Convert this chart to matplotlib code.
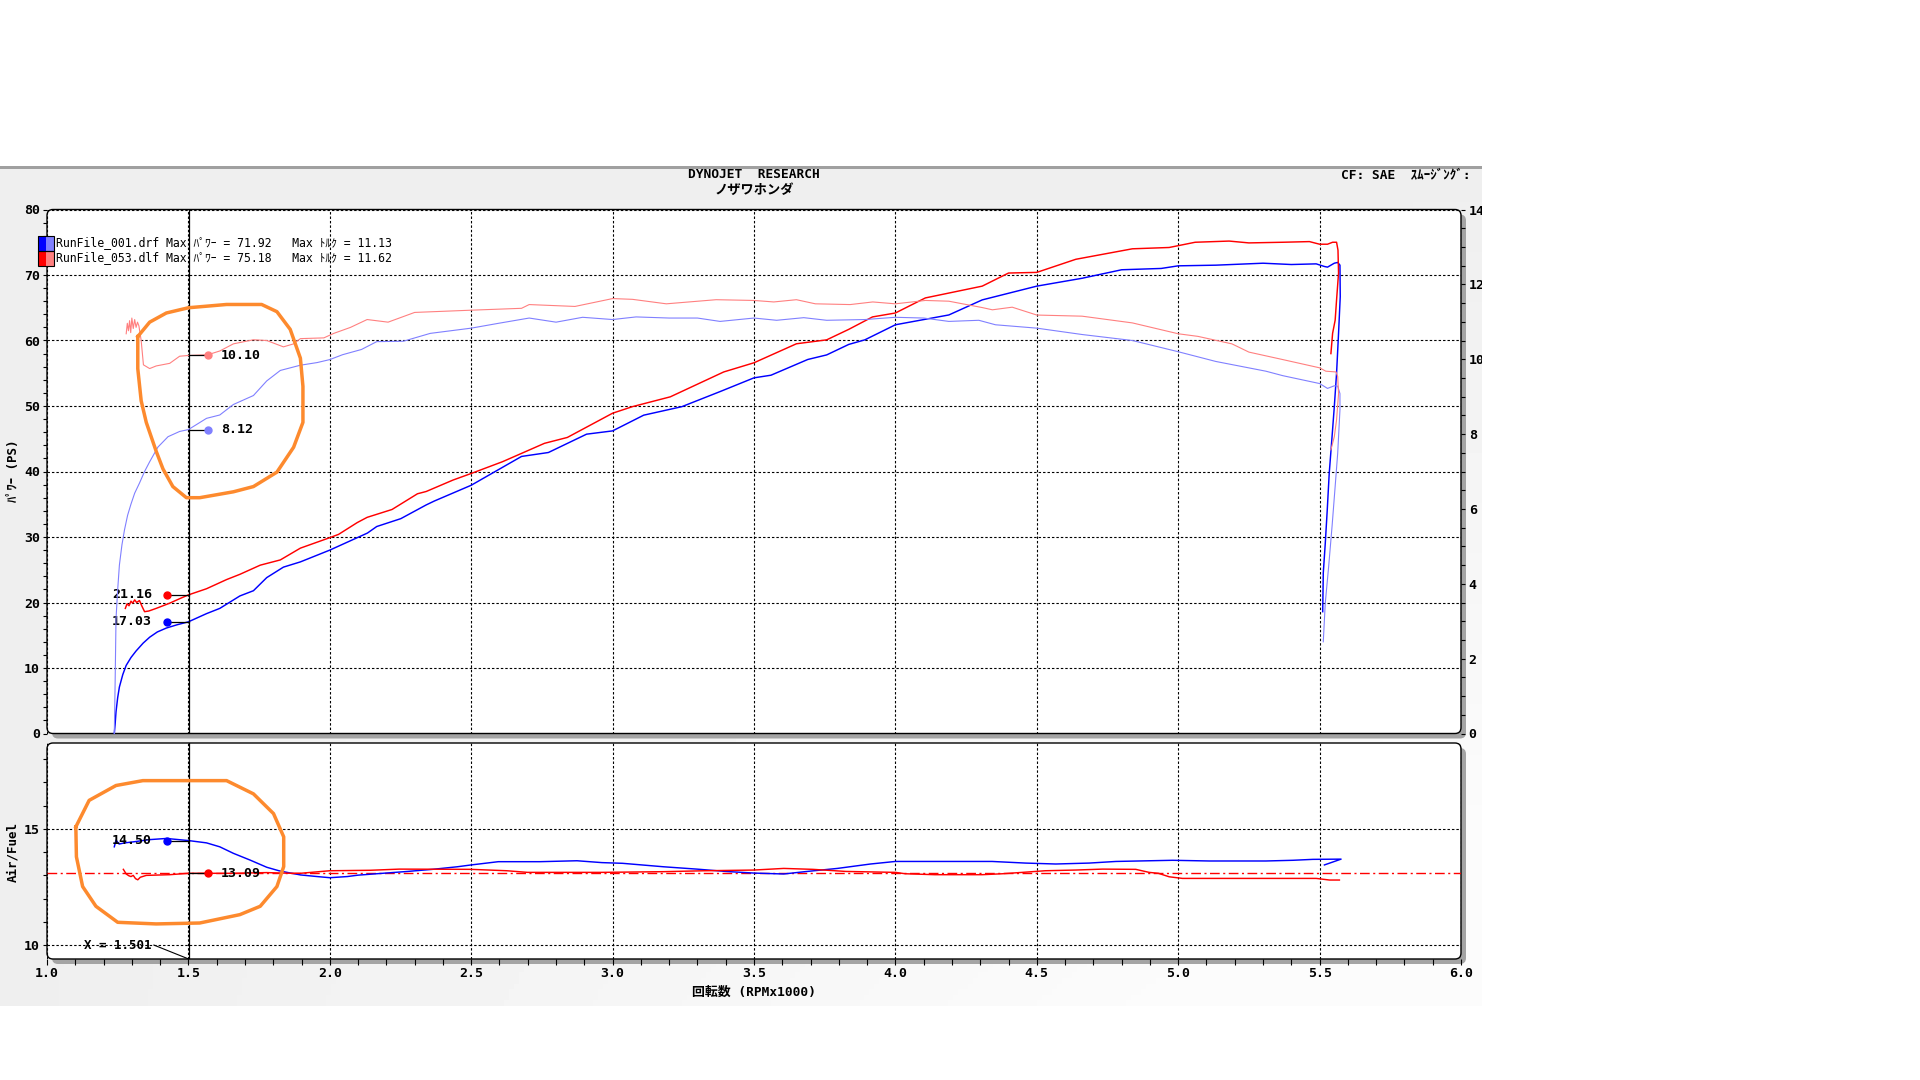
import numpy as np
import matplotlib
matplotlib.use('Agg')
import matplotlib.pyplot as plt
from matplotlib.patches import FancyBboxPatch, Rectangle
from matplotlib.transforms import IdentityTransform
from matplotlib.ticker import MultipleLocator, FixedLocator, FormatStrFormatter

plt.rcParams['font.family'] = ['DejaVu Sans Mono', 'Noto Sans CJK JP']

# ---------------- data ----------------
# Run 001 (blue) power, PS
blue_pwr_rpm = [1.238, 1.241, 1.244, 1.25, 1.256, 1.268, 1.28, 1.297, 1.315, 1.34, 1.363, 1.39, 1.422, 1.46, 1.5,
                1.564, 1.611, 1.682, 1.73, 1.777, 1.836, 1.896, 2.0, 2.133, 2.166, 2.251, 2.341, 2.37, 2.5, 2.678,
                2.773, 2.908, 3.0, 3.11, 3.245, 3.38, 3.5, 3.56, 3.69, 3.757, 3.835, 3.892, 4.0, 4.189, 4.307, 4.5,
                4.66, 4.80, 4.94, 5.0, 5.133, 5.30, 5.40, 5.488, 5.517, 5.528, 5.552, 5.564, 5.572, 5.573, 5.567,
                5.56, 5.552, 5.544, 5.534, 5.527, 5.52, 5.513, 5.511]
blue_pwr = [0, 1.5, 3.3, 5.5, 7.1, 9.0, 10.4, 11.6, 12.6, 13.8, 14.7, 15.5, 16.1, 16.6, 17.05,
            18.3, 19.1, 21.0, 21.8, 23.8, 25.4, 26.2, 28.0, 30.6, 31.6, 32.8, 34.9, 35.5, 37.9, 42.3,
            42.9, 45.7, 46.2, 48.6, 49.9, 52.2, 54.3, 54.7, 57.1, 57.8, 59.4, 60.1, 62.4, 63.9, 66.2, 68.3,
            69.5, 70.8, 71.0, 71.4, 71.5, 71.8, 71.6, 71.7, 71.3, 71.2, 71.8, 71.92, 71.5, 66.7, 61.1,
            55.0, 49.9, 45.3, 39.7, 34.1, 29.0, 24.5, 18.6]

# Run 053 (red) power, PS
red_pwr_rpm = [1.277, 1.283, 1.29, 1.297, 1.303, 1.31, 1.317, 1.327, 1.335, 1.345, 1.36, 1.386, 1.434, 1.47, 1.5,
               1.564, 1.635, 1.682, 1.754, 1.825, 1.896, 2.0, 2.031, 2.097, 2.132, 2.22, 2.31, 2.341, 2.436, 2.5,
               2.611, 2.759, 2.84, 3.0, 3.07, 3.204, 3.393, 3.5, 3.65, 3.757, 3.835, 3.919, 4.0, 4.106, 4.307,
               4.40, 4.5, 4.638, 4.838, 4.968, 5.06, 5.18, 5.25, 5.37, 5.464, 5.5, 5.528, 5.546, 5.56, 5.565,
               5.567, 5.56, 5.555, 5.546, 5.54]
red_pwr = [19.1, 19.8, 19.5, 20.2, 19.9, 20.4, 20.0, 20.3, 19.5, 18.6, 18.7, 19.1, 19.9, 20.6, 21.16,
           22.1, 23.5, 24.3, 25.7, 26.5, 28.3, 29.9, 30.4, 32.2, 33.0, 34.2, 36.6, 36.95, 38.7, 39.7,
           41.5, 44.3, 45.2, 48.9, 49.9, 51.4, 55.2, 56.6, 59.5, 60.1, 61.7, 63.6, 64.2, 66.5, 68.3,
           70.3, 70.4, 72.4, 74.0, 74.2, 75.0, 75.18, 74.9, 75.0, 75.1, 74.7, 74.7, 75.0, 75.0, 73.8,
           70.3, 66.2, 63.1, 61.1, 58.0]

# Run 001 (light blue) torque, kgm
blue_trq_rpm = [1.238, 1.241, 1.244, 1.25, 1.256, 1.265, 1.274, 1.285, 1.297, 1.31, 1.327, 1.345, 1.363, 1.392,
                1.428, 1.469, 1.5, 1.564, 1.611, 1.659, 1.73, 1.777, 1.825, 1.896, 1.955, 2.0, 2.045, 2.112,
                2.166, 2.26, 2.355, 2.5, 2.597, 2.705, 2.80, 2.894, 3.0, 3.083, 3.2, 3.3, 3.38, 3.5, 3.58, 3.676,
                3.757, 3.892, 4.0, 4.1, 4.189, 4.295, 4.354, 4.5, 4.66, 4.838, 5.0, 5.133, 5.31, 5.37, 5.5,
                5.528, 5.552, 5.564, 5.572, 5.572, 5.564, 5.555, 5.544, 5.532, 5.52, 5.513]
blue_trq = [0, 1.40, 3.06, 3.85, 4.50, 5.04, 5.44, 5.83, 6.13, 6.42, 6.69, 7.00, 7.26, 7.65,
            7.93, 8.07, 8.12, 8.42, 8.51, 8.79, 9.03, 9.42, 9.70, 9.84, 9.91, 9.99, 10.12, 10.26,
            10.47, 10.48, 10.69, 10.83, 10.96, 11.10, 10.99, 11.12, 11.06, 11.13, 11.10, 11.10, 11.01, 11.10,
            11.04, 11.11, 11.04, 11.06, 11.12, 11.10, 11.01, 11.04, 10.92, 10.83, 10.66, 10.50, 10.20, 9.94,
            9.68, 9.56, 9.35, 9.22, 9.29, 9.28, 9.08, 8.65, 7.49, 6.60, 5.53, 4.46, 3.48, 2.45]

# Run 053 (light red) torque, kgm
red_trq_rpm = [1.280, 1.284, 1.288, 1.292, 1.296, 1.300, 1.305, 1.310, 1.315, 1.320, 1.325, 1.333, 1.341, 1.363,
               1.386, 1.434, 1.469, 1.5, 1.569, 1.611, 1.659, 1.73, 1.777, 1.836, 1.872, 1.896, 1.979, 2.014,
               2.073, 2.132, 2.206, 2.30, 2.5, 2.678, 2.705, 2.867, 3.0, 3.07, 3.19, 3.366, 3.5, 3.57, 3.65,
               3.717, 3.84, 3.92, 4.0, 4.106, 4.189, 4.307, 4.343, 4.413, 4.5, 4.66, 4.838, 5.0, 5.07, 5.19,
               5.25, 5.37, 5.5, 5.522, 5.558, 5.564, 5.567, 5.56, 5.552, 5.54]
red_trq = [10.68, 10.96, 10.76, 11.03, 10.71, 11.10, 10.82, 11.06, 10.85, 10.99, 10.89, 10.50, 9.85, 9.75,
           9.82, 9.89, 10.08, 10.10, 10.12, 10.22, 10.41, 10.52, 10.50, 10.33, 10.41, 10.55, 10.57, 10.69,
           10.85, 11.06, 10.99, 11.25, 11.31, 11.36, 11.46, 11.41, 11.62, 11.60, 11.48, 11.59, 11.57, 11.53, 11.59,
           11.48, 11.46, 11.53, 11.48, 11.57, 11.55, 11.38, 11.32, 11.39, 11.18, 11.15, 10.97, 10.68, 10.61, 10.41,
           10.19, 9.99, 9.77, 9.68, 9.66, 9.54, 9.08, 8.38, 7.93, 7.58]

# Air/Fuel ratio
blue_afr_rpm = [1.238, 1.244, 1.255, 1.275, 1.303, 1.363, 1.422, 1.5, 1.564, 1.611, 1.659, 1.718, 1.777, 1.82,
                1.836, 1.896, 1.955, 2.0, 2.062, 2.1, 2.187, 2.275, 2.363, 2.45, 2.5, 2.596, 2.743, 2.874, 2.962,
                3.035, 3.181, 3.298, 3.4, 3.5, 3.605, 3.68, 3.795, 3.912, 4.0, 4.342, 4.46, 4.567, 4.685, 4.78,
                4.98, 5.11, 5.31, 5.405, 5.476, 5.576, 5.517]
blue_afr = [14.23, 14.52, 14.35, 14.40, 14.44, 14.54, 14.59, 14.50, 14.40, 14.23, 13.95, 13.66, 13.35, 13.2,
            13.16, 13.02, 12.95, 12.90, 12.95, 13.01, 13.09, 13.17, 13.26, 13.37, 13.45, 13.59, 13.59, 13.63, 13.55,
            13.52, 13.37, 13.27, 13.17, 13.10, 13.06, 13.16, 13.30, 13.49, 13.60, 13.60, 13.53, 13.49, 13.53, 13.60,
            13.65, 13.62, 13.62, 13.65, 13.69, 13.70, 13.45]
red_afr_rpm = [1.27, 1.28, 1.29, 1.297, 1.305, 1.313, 1.321, 1.33, 1.351, 1.434, 1.5, 1.659, 1.777, 1.865, 1.896,
               2.0, 2.143, 2.246, 2.5, 2.626, 2.699, 2.962, 3.181, 3.327, 3.5, 3.605, 3.708, 3.825, 4.0, 4.035,
               4.14, 4.307, 4.378, 4.449, 4.53, 4.637, 4.732, 4.85, 4.897, 4.93, 4.968, 5.015, 5.488, 5.535, 5.57]
red_afr = [13.26, 13.06, 12.98, 12.95, 13.0, 12.86, 12.81, 12.92, 13.0, 13.03, 13.09, 13.09, 13.12, 13.09, 13.09,
           13.2, 13.22, 13.27, 13.26, 13.2, 13.13, 13.13, 13.16, 13.2, 13.23, 13.3, 13.26, 13.17, 13.13, 13.07,
           13.03, 13.03, 13.07, 13.13, 13.2, 13.23, 13.27, 13.26, 13.13, 13.09, 12.94, 12.87, 12.87, 12.80, 12.80]
afr_target = 13.1

# cursor readout
cursor_rpm = 1.501
cursor_labels = ['10.10', '8.12', '21.16', '17.03', '14.50', '13.09']
cur_red_trq, cur_blue_trq, cur_red_pwr, cur_blue_pwr, cur_blue_afr, cur_red_afr = 10.10, 8.12, 21.16, 17.03, 14.50, 13.09

# hand-drawn orange loops
loop1_rpm = [1.321, 1.363, 1.422, 1.5, 1.635, 1.759, 1.813, 1.86, 1.896, 1.905, 1.905, 1.872, 1.813, 1.73, 1.659,
             1.54, 1.493, 1.445, 1.41, 1.386, 1.351, 1.333, 1.321, 1.321]
loop1_val = [60.6, 62.8, 64.2, 65.0, 65.5, 65.5, 64.4, 61.7, 57.3, 53.0, 47.5, 43.7, 39.9, 37.7, 36.9,
             36.0, 36.0, 37.7, 40.4, 43.1, 47.5, 50.8, 55.7, 60.6]
loop2_rpm = [1.102, 1.149, 1.244, 1.339, 1.5, 1.635, 1.73, 1.801, 1.837, 1.837, 1.813, 1.754, 1.682, 1.54, 1.386,
             1.25, 1.173, 1.126, 1.104, 1.102]
loop2_val = [15.09, 16.23, 16.87, 17.08, 17.08, 17.08, 16.51, 15.66, 14.66, 13.38, 12.52, 11.67, 11.31, 10.95, 10.91,
             10.98, 11.67, 12.52, 13.80, 15.09]

x_ticks = [1.0, 1.5, 2.0, 2.5, 3.0, 3.5, 4.0, 4.5, 5.0, 5.5, 6.0]
legend_lines = ['RunFile_001.drf Max ﾊﾟﾜｰ = 71.92   Max ﾄﾙｸ = 11.13',
                'RunFile_053.dlf Max ﾊﾟﾜｰ = 75.18   Max ﾄﾙｸ = 11.62']

# ---------------- styling ----------------
BLUE, LBLUE, RED, LRED = '#0000ff', '#8080ff', '#ff0000', '#ff8080'
ORANGE = '#fd8a2e'
W, H = 1920, 1080
fig = plt.figure(figsize=(19.2, 10.8), dpi=100)
fig.patch.set_facecolor('white')
ID = IdentityTransform()

def fx(x):
    return x / W

def fy(y):
    return 1 - y / H

# background gradient panel
bg = fig.add_axes([0, fy(1006), fx(1482), (1006 - 168) / H], zorder=-10)
gx, gy = np.meshgrid(np.linspace(0, 1, 300), np.linspace(0, 1, 150))
grad = 0.935 + 0.05 * np.clip(gx * gy * 1.3, 0, 1)
bg.imshow(grad, cmap='gray', vmin=0, vmax=1, aspect='auto', extent=[0, 1, 0, 1], origin='upper')
bg.set_axis_off()
fig.add_artist(Rectangle((0, H - 168.5), 1482, 2.5, transform=ID, facecolor='#a0a0a0', edgecolor='none', zorder=-9))

# panel frames (px, from top)
def panel(x0, x1, ytop, ybot):
    w, h = x1 - x0, ybot - ytop
    shadow = FancyBboxPatch((x0 + 5, H - ybot - 5), w, h, boxstyle='round,pad=0,rounding_size=6',
                            transform=ID, facecolor='#a4a4a4', edgecolor='none', zorder=-3)
    face = FancyBboxPatch((x0, H - ybot), w, h, boxstyle='round,pad=0,rounding_size=6',
                          transform=ID, facecolor='white', edgecolor='black', linewidth=1.0, zorder=-2)
    fig.add_artist(shadow)
    fig.add_artist(face)
    return [fx(x0), fy(ybot), w / W, h / H]

pos1 = panel(47, 1461, 209.5, 733.5)
pos2 = panel(47, 1461, 743, 959)

ax1 = fig.add_axes(pos1)
ax1r = ax1.twinx()
ax2 = fig.add_axes(pos2)
for a in (ax1, ax1r, ax2):
    a.set_facecolor('none')
    for s in a.spines.values():
        s.set_visible(False)

GRID = dict(color='black', linestyle=(0, (2.2, 1.8)), linewidth=0.8)
TICKFONT = dict(fontsize=9.5, fontweight='bold')
PW_LW, TQ_LW = 1.05, 0.8

# ---- top panel
ax1.set_xlim(1, 6)
ax1.set_ylim(0, 80)
ax1.xaxis.set_major_locator(FixedLocator(x_ticks))
ax1.tick_params(axis='x', length=0, labelbottom=False)
ax1.yaxis.set_major_locator(MultipleLocator(10))
ax1.yaxis.set_minor_locator(MultipleLocator(2))
ax1.tick_params(axis='y', which='both', direction='out', length=3, width=0.8, pad=2, labelsize=9.5)
for t in ax1.get_yticklabels():
    t.set_fontweight('bold')
ax1.grid(True, which='major', **GRID)
ax1.set_axisbelow(True)

ax1r.set_ylim(0, 14)
ax1r.yaxis.set_major_locator(MultipleLocator(2))
ax1r.yaxis.set_minor_locator(MultipleLocator(0.5))
ax1r.tick_params(axis='y', which='both', direction='out', length=3, width=0.8, pad=2.5, labelsize=9.5)
for t in ax1r.get_yticklabels():
    t.set_fontweight('bold')

ax1.plot(blue_pwr_rpm, blue_pwr, color=BLUE, lw=PW_LW, zorder=3)
ax1.plot(red_pwr_rpm, red_pwr, color=RED, lw=PW_LW, zorder=3)
ax1r.plot(blue_trq_rpm, blue_trq, color=LBLUE, lw=TQ_LW, zorder=2)
ax1r.plot(red_trq_rpm, red_trq, color=LRED, lw=TQ_LW, zorder=2)
ax1.axvline(cursor_rpm, color='black', lw=0.9, zorder=4)

# cursor readouts (top)
mx_right, mx_left = 1.569, 1.425
ax1r.plot([cursor_rpm, mx_right], [cur_red_trq] * 2, color='black', lw=0.9, zorder=5)
ax1r.plot([mx_right], [cur_red_trq], 'o', color=LRED, ms=5, zorder=6)
ax1r.text(1.614, cur_red_trq, cursor_labels[0], ha='left', va='center', **TICKFONT)
ax1r.plot([cursor_rpm, mx_right], [cur_blue_trq] * 2, color='black', lw=0.9, zorder=5)
ax1r.plot([mx_right], [cur_blue_trq], 'o', color=LBLUE, ms=5, zorder=6)
ax1r.text(1.614, cur_blue_trq, cursor_labels[1], ha='left', va='center', **TICKFONT)
ax1.plot([mx_left, cursor_rpm], [cur_red_pwr] * 2, color='black', lw=0.9, zorder=5)
ax1.plot([mx_left], [cur_red_pwr], 'o', color=RED, ms=5, zorder=6)
ax1.text(1.372, cur_red_pwr, cursor_labels[2], ha='right', va='center', **TICKFONT)
ax1.plot([mx_left, cursor_rpm], [cur_blue_pwr] * 2, color='black', lw=0.9, zorder=5)
ax1.plot([mx_left], [cur_blue_pwr], 'o', color=BLUE, ms=5, zorder=6)
ax1.text(1.372, cur_blue_pwr, cursor_labels[3], ha='right', va='center', **TICKFONT)

ax1r.plot(loop1_rpm, loop1_val, color=ORANGE, lw=2.5, solid_joinstyle='round', transform=ax1.transData, zorder=8)
ax1r.set_ylim(0, 14)
ax1r.set_xlim(1, 6)

# ---- bottom panel
ax2.set_xlim(1, 6)
ax2.set_ylim(9.4, 18.7)
ax2.xaxis.set_major_locator(FixedLocator(x_ticks))
ax2.xaxis.set_major_formatter(FormatStrFormatter('%.1f'))
ax2.xaxis.set_minor_locator(MultipleLocator(0.1))
ax2.tick_params(axis='x', which='both', direction='out', length=4, width=0.8, pad=1.5, labelsize=9.5)
for t in ax2.get_xticklabels():
    t.set_fontweight('bold')
ax2.yaxis.set_major_locator(FixedLocator([10, 15]))
ax2.yaxis.set_minor_locator(MultipleLocator(1))
ax2.tick_params(axis='y', which='both', direction='out', length=3, width=0.8, pad=2, labelsize=9.5)
for t in ax2.get_yticklabels():
    t.set_fontweight('bold')
ax2.grid(True, which='major', **GRID)
ax2.set_axisbelow(True)

ax2.axhline(afr_target, color=RED, lw=1.0, linestyle=(0, (7, 2.5, 1.5, 2.5)), zorder=2)
ax2.plot(blue_afr_rpm, blue_afr, color=BLUE, lw=PW_LW, zorder=3)
ax2.plot(red_afr_rpm, red_afr, color=RED, lw=PW_LW, zorder=3)
ax2.axvline(cursor_rpm, color='black', lw=0.9, zorder=4)

ax2.plot([mx_left, cursor_rpm], [cur_blue_afr] * 2, color='black', lw=0.9, zorder=5)
ax2.plot([mx_left], [cur_blue_afr], 'o', color=BLUE, ms=5, zorder=6)
ax2.text(1.372, cur_blue_afr, cursor_labels[4], ha='right', va='center', zorder=7, **TICKFONT)
ax2.plot([cursor_rpm, mx_right], [cur_red_afr] * 2, color='black', lw=0.9, zorder=5)
ax2.plot([mx_right], [cur_red_afr], 'o', color=RED, ms=5, zorder=6)
ax2.text(1.614, cur_red_afr, cursor_labels[5], ha='left', va='center', zorder=7, **TICKFONT)

ax2.text(1.37, 10.0, 'X = %.3f' % cursor_rpm, ha='right', va='center', fontsize=9, fontweight='bold', zorder=7)
ax2.plot([1.378, cursor_rpm], [10.0, 9.4], color='black', lw=0.8, zorder=5, clip_on=False)

ax2.plot(loop2_rpm, loop2_val, color=ORANGE, lw=2.5, solid_joinstyle='round', zorder=8)

# ---- legend swatches and text
for i, (dark, light) in enumerate([(BLUE, LBLUE), (RED, LRED)]):
    ytop = 235.5 + i * 15.5
    fig.add_artist(Rectangle((38, H - ytop - 15), 8, 15, transform=ID, facecolor=dark, edgecolor='none', zorder=5))
    fig.add_artist(Rectangle((46, H - ytop - 15), 8, 15, transform=ID, facecolor=light, edgecolor='none', zorder=5))
    fig.add_artist(Rectangle((38, H - ytop - 15), 16, 15, transform=ID, facecolor='none', edgecolor='black',
                             linewidth=0.8, zorder=6))
fig.text(fx(56), fy(243), legend_lines[0], fontsize=8.3, ha='left', va='center')
fig.text(fx(56), fy(258), legend_lines[1], fontsize=8.3, ha='left', va='center')

# ---- titles / labels
fig.text(fx(754), fy(175), 'DYNOJET  RESEARCH', fontsize=9.3, fontweight='bold', ha='center', va='center')
fig.text(fx(754), fy(190), 'ノザワホンダ', fontsize=9.5, fontweight='bold', ha='center', va='center')
fig.text(fx(1341), fy(175), 'CF: SAE  ｽﾑｰｼﾞﾝｸﾞ:', fontsize=9.3, fontweight='bold', ha='left', va='center')
fig.text(fx(13), fy(471), 'ﾊﾟﾜｰ (PS)', fontsize=9, fontweight='bold', rotation=90, ha='center', va='center')
fig.text(fx(13), fy(852), 'Air/Fuel', fontsize=9, fontweight='bold', rotation=90, ha='center', va='center')
fig.text(fx(754), fy(992), '回転数 (RPMx1000)', fontsize=9.3, fontweight='bold', ha='center', va='center')

# crop of the screenshot on the right
fig.add_artist(Rectangle((1482, 0), W - 1482, H, transform=ID, facecolor='white', edgecolor='none', zorder=50))

fig.savefig('out.png', dpi=100, facecolor='white')
